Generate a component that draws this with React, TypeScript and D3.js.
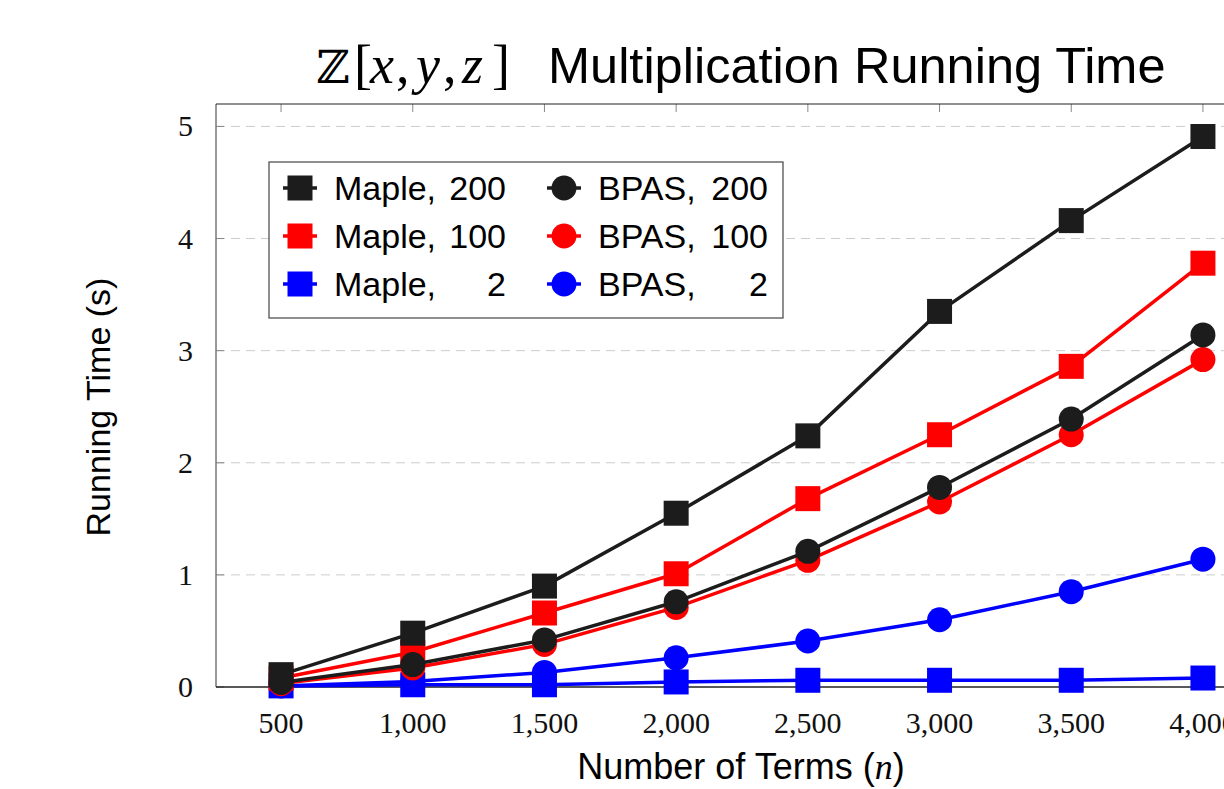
import React, { useEffect, useRef } from 'react';
import * as d3 from 'd3';

const terms = [500, 1000, 1500, 2000, 2500, 3000, 3500, 4000];
const maple200 = [0.11, 0.48, 0.9, 1.55, 2.24, 3.35, 4.16, 4.91];
const maple100 = [0.08, 0.31, 0.66, 1.01, 1.68, 2.25, 2.86, 3.78];
const maple2 = [0.01, 0.02, 0.02, 0.045, 0.06, 0.06, 0.06, 0.08];
const bpas200 = [0.04, 0.2, 0.42, 0.76, 1.21, 1.78, 2.39, 3.14];
const bpas100 = [0.03, 0.17, 0.38, 0.71, 1.13, 1.65, 2.25, 2.92];
const bpas2 = [0.01, 0.05, 0.13, 0.26, 0.41, 0.6, 0.85, 1.14];
const yTicks = [0, 1, 2, 3, 4, 5];

const BLACK = '#1c1c1c';
const RED = '#ff0000';
const BLUE = '#0000ff';

// draw order matters: later series sit on top
const series = [
  { name: 'Maple,', num: '2', values: maple2, color: BLUE, mark: 'square' },
  { name: 'BPAS,', num: '2', values: bpas2, color: BLUE, mark: 'circle' },
  { name: 'Maple,', num: '100', values: maple100, color: RED, mark: 'square' },
  { name: 'BPAS,', num: '100', values: bpas100, color: RED, mark: 'circle' },
  { name: 'Maple,', num: '200', values: maple200, color: BLACK, mark: 'square' },
  { name: 'BPAS,', num: '200', values: bpas200, color: BLACK, mark: 'circle' },
];

// legend layout: rows x columns
const legendRows = [
  ['Maple, 200', 'BPAS, 200'],
  ['Maple, 100', 'BPAS, 100'],
  ['Maple, 2', 'BPAS, 2'],
];

// title math part, glyph by glyph
const titleMath = [
  { t: 'ℤ', x: 316, italic: false, bb: true },
  { t: '[', x: 354, italic: false, bb: false },
  { t: 'x', x: 370, italic: true, bb: false },
  { t: ',', x: 396, italic: false, bb: false },
  { t: 'y', x: 416, italic: true, bb: false },
  { t: ',', x: 443, italic: false, bb: false },
  { t: 'z', x: 462, italic: true, bb: false },
  { t: ']', x: 492, italic: false, bb: false },
];

export default function App() {
  const svgRef = useRef<SVGSVGElement>(null);

  useEffect(() => {
    const svg = d3.select(svgRef.current);
    svg.selectAll('*').remove();

    const left = 216, top = 104, bottom = 687, right = 1268;
    const x = d3.scaleLinear().domain([253, 4247]).range([left, right]);
    const y = d3.scaleLinear().domain([0, 5.2]).range([bottom, top]);

    const sans = '"Liberation Sans", Arial, sans-serif';
    const serif = '"Liberation Serif", "Times New Roman", serif';

    // grid
    svg.append('g')
      .selectAll('line')
      .data(yTicks.filter(t => t > 0))
      .join('line')
      .attr('x1', left).attr('x2', right)
      .attr('y1', d => y(d)).attr('y2', d => y(d))
      .attr('stroke', '#cccccc')
      .attr('stroke-width', 1)
      .attr('stroke-dasharray', '9,6');

    // ticks (inside)
    const tickG = svg.append('g').attr('stroke', '#888').attr('stroke-width', 1);
    terms.forEach(t => {
      tickG.append('line').attr('x1', x(t)).attr('x2', x(t)).attr('y1', top).attr('y2', top + 8);
      tickG.append('line').attr('x1', x(t)).attr('x2', x(t)).attr('y1', bottom).attr('y2', bottom - 8);
    });
    yTicks.forEach(t => {
      tickG.append('line').attr('x1', left).attr('x2', left + 8).attr('y1', y(t)).attr('y2', y(t));
    });

    // frame
    svg.append('line').attr('x1', left).attr('x2', left).attr('y1', top).attr('y2', bottom)
      .attr('stroke', '#777').attr('stroke-width', 1.5);
    svg.append('line').attr('x1', left).attr('x2', right).attr('y1', top).attr('y2', top)
      .attr('stroke', '#222').attr('stroke-width', 1.2);
    svg.append('line').attr('x1', left).attr('x2', right).attr('y1', bottom).attr('y2', bottom)
      .attr('stroke', '#222').attr('stroke-width', 1.5);

    // tick labels
    svg.append('g')
      .selectAll('text')
      .data(terms)
      .join('text')
      .attr('x', d => x(d))
      .attr('y', 733)
      .attr('text-anchor', 'middle')
      .attr('font-family', serif)
      .attr('font-size', 30)
      .attr('fill', '#111')
      .text(d => d3.format(',')(d));

    svg.append('g')
      .selectAll('text')
      .data(yTicks)
      .join('text')
      .attr('x', 193)
      .attr('y', d => y(d) + 10)
      .attr('text-anchor', 'end')
      .attr('font-family', serif)
      .attr('font-size', 30)
      .attr('fill', '#111')
      .text(d => d);

    // series
    const line = d3.line<number>()
      .x((_, i) => x(terms[i]))
      .y(d => y(d));

    series.forEach(s => {
      const g = svg.append('g');
      g.append('path')
        .datum(s.values)
        .attr('fill', 'none')
        .attr('stroke', s.color)
        .attr('stroke-width', 3.5)
        .attr('stroke-linejoin', 'round')
        .attr('d', line);
      s.values.forEach((v, i) => {
        if (s.mark === 'square') {
          g.append('rect')
            .attr('x', x(terms[i]) - 12.5).attr('y', y(v) - 12.5)
            .attr('width', 25).attr('height', 25)
            .attr('fill', s.color);
        } else {
          g.append('circle')
            .attr('cx', x(terms[i])).attr('cy', y(v))
            .attr('r', 12.5)
            .attr('fill', s.color);
        }
      });
    });

    // legend
    const lg = svg.append('g');
    lg.append('rect')
      .attr('x', 269).attr('y', 162).attr('width', 514).attr('height', 156)
      .attr('fill', '#fff').attr('stroke', '#444').attr('stroke-width', 1.2);

    const colX = [300, 564];
    const numEnd = [506, 768];
    legendRows.forEach((row, r) => {
      const cy = 188 + r * 48;
      row.forEach((label, c) => {
        const s = series.find(d => `${d.name} ${d.num}` === label)!;
        const cx = colX[c];
        lg.append('line')
          .attr('x1', cx - 17).attr('x2', cx + 17)
          .attr('y1', cy).attr('y2', cy)
          .attr('stroke', s.color).attr('stroke-width', 3.5);
        if (s.mark === 'square') {
          lg.append('rect').attr('x', cx - 12.5).attr('y', cy - 12.5)
            .attr('width', 25).attr('height', 25).attr('fill', s.color);
        } else {
          lg.append('circle').attr('cx', cx).attr('cy', cy).attr('r', 12.5).attr('fill', s.color);
        }
        lg.append('text')
          .attr('x', cx + 34).attr('y', cy + 12)
          .attr('font-family', sans).attr('font-size', 34).attr('fill', '#000')
          .text(s.name);
        lg.append('text')
          .attr('x', numEnd[c]).attr('y', cy + 12)
          .attr('text-anchor', 'end')
          .attr('font-family', sans).attr('font-size', 34).attr('fill', '#000')
          .text(s.num);
      });
    });

    // axis labels
    svg.append('text')
      .attr('x', 741).attr('y', 779)
      .attr('text-anchor', 'middle')
      .attr('font-family', sans).attr('font-size', 36).attr('fill', '#000')
      .call(t => {
        t.append('tspan').text('Number of Terms (');
        t.append('tspan').attr('font-family', serif).attr('font-style', 'italic').text('n');
        t.append('tspan').text(')');
      });

    svg.append('text')
      .attr('transform', 'translate(110,407) rotate(-90)')
      .attr('text-anchor', 'middle')
      .attr('font-family', sans).attr('font-size', 34).attr('fill', '#000')
      .text('Running Time (s)');

    // title
    const math = svg.append('text')
      .attr('y', 83)
      .attr('font-family', serif).attr('font-size', 54).attr('fill', '#000');
    titleMath.forEach(g => {
      const ts = math.append('tspan').attr('x', g.x).text(g.t);
      if (g.italic) ts.attr('font-style', 'italic');
      if (g.bb) ts.attr('font-family', '"DejaVu Serif", serif').attr('font-size', 46);
    });

    svg.append('text')
      .attr('x', 548).attr('y', 83)
      .attr('font-family', sans).attr('font-size', 50.5).attr('fill', '#000')
      .text('Multiplication Running Time');
  }, []);

  return (
    <svg
      ref={svgRef}
      width={1224}
      height={789}
      style={{ position: 'absolute', left: 0, top: 0, background: '#fff', overflow: 'hidden' }}
    />
  );
}
